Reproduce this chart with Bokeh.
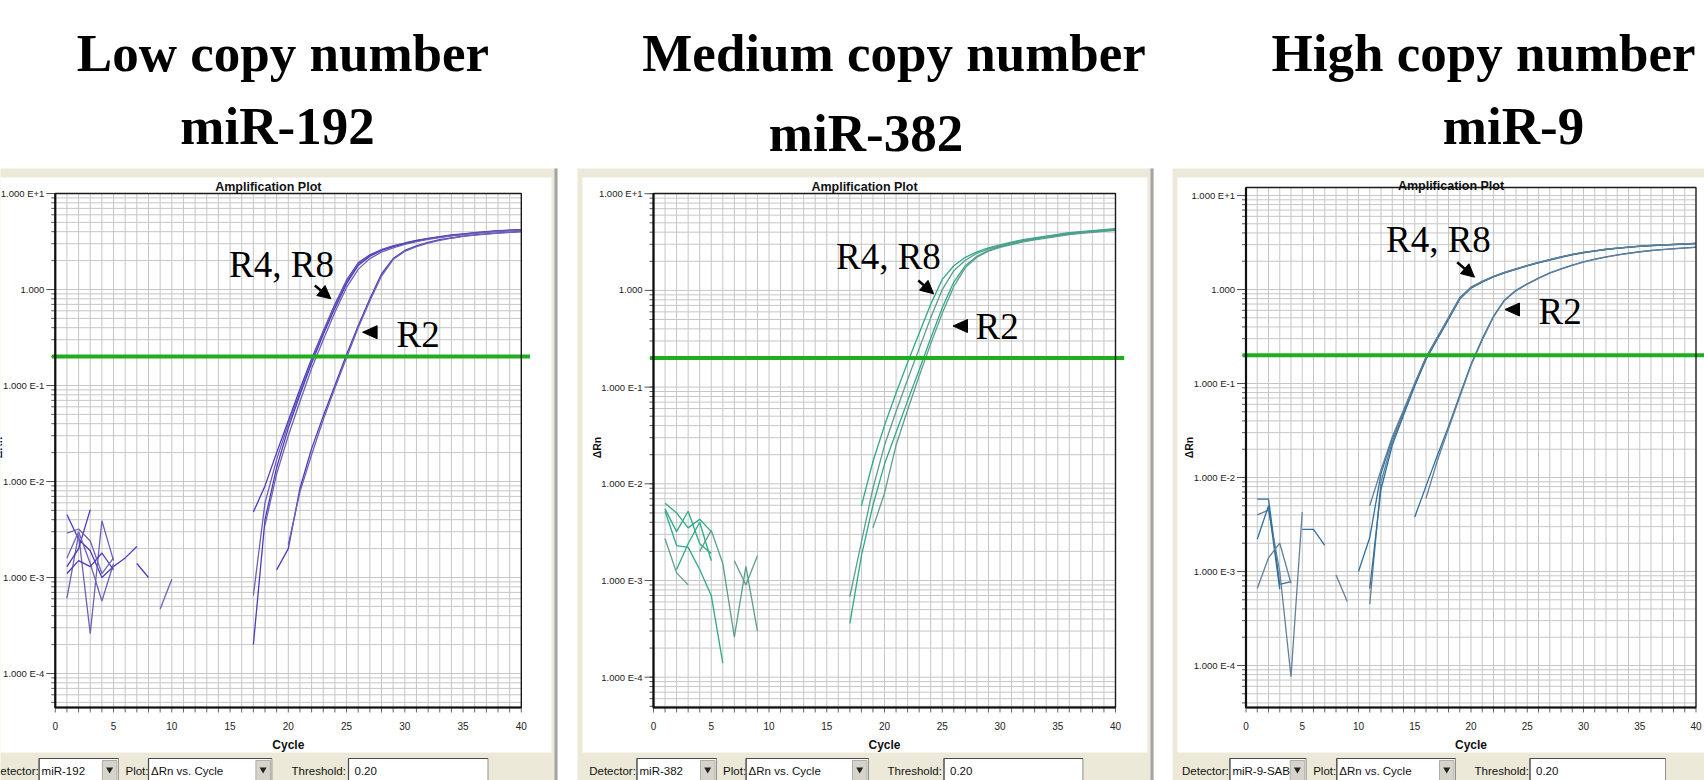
import math
from bokeh.plotting import figure
from bokeh.models import Range1d, LogScale, Arrow, NormalHead
from bokeh.core.properties import value
from bokeh.embed import file_html
from bokeh.resources import INLINE

W, H = 1704, 780

# ------------------------------------------------------------------ values
PANEL_TITLES = ["Low copy number", "Medium copy number", "High copy number"]
MIR_NAMES = ["miR-192", "miR-382", "miR-9"]
DETECTORS = ["miR-192", "miR-382", "miR-9-SAB"]
PLOT_KIND = "ΔRn vs. Cycle"
THRESHOLD = 0.20
THRESHOLD_TEXT = "0.20"
LAST_CYCLE = 40
CYCLE_TICKS = [0, 5, 10, 15, 20, 25, 30, 35, 40]
DECADES = [10.0, 1.0, 0.1, 0.01, 0.001, 0.0001]
DECADE_LABELS = ["1.000 E+1", "1.000", "1.000 E-1", "1.000 E-2", "1.000 E-3", "1.000 E-4"]
EARLY_LABEL = "R4, R8"
LATE_LABEL = "R2"

# miR-192 wells: (first plotted cycle, ΔRn per cycle)
mir192_r48_a = (17, [0.0048, 0.0090, 0.020, 0.043, 0.092, 0.19, 0.37, 0.70, 1.25, 1.90, 2.30, 2.60,
                     2.85, 3.05, 3.25, 3.40, 3.55, 3.70, 3.80, 3.90, 4.00, 4.10, 4.15, 4.20])
mir192_r48_b = (17, [6.5e-4, 0.0060, 0.017, 0.040, 0.085, 0.18, 0.36, 0.68, 1.20, 1.85, 2.25, 2.58,
                     2.83, 3.03, 3.22, 3.38, 3.53, 3.67, 3.78, 3.88, 3.98, 4.07, 4.13, 4.18])
mir192_r48_c = (17, [2.0e-4, 0.0040, 0.014, 0.036, 0.080, 0.17, 0.34, 0.64, 1.15, 1.78, 2.22, 2.55,
                     2.80, 3.00, 3.20, 3.36, 3.51, 3.65, 3.76, 3.86, 3.96, 4.05, 4.12, 4.17])
mir192_r48_d = (18, [0.0035, 0.012, 0.030, 0.068, 0.15, 0.30, 0.58, 1.05, 1.62, 2.10, 2.45, 2.72,
                     2.95, 3.15, 3.32, 3.47, 3.61, 3.73, 3.84, 3.94, 4.03, 4.10, 4.16])
mir192_r2_a = (19, [1.2e-3, 2.0e-3, 8.5e-3, 0.022, 0.048, 0.10, 0.21, 0.42, 0.80, 1.45, 2.10, 2.55,
                    2.85, 3.10, 3.30, 3.45, 3.60, 3.70, 3.80, 3.88, 3.95, 4.00])
mir192_r2_b = (20, [2.2e-3, 7.8e-3, 0.019, 0.044, 0.094, 0.195, 0.40, 0.76, 1.38, 2.05, 2.50, 2.80,
                    3.05, 3.25, 3.42, 3.57, 3.68, 3.78, 3.86, 3.93, 4.00])
mir192_base_1 = (1, [4.5e-3, 2.5e-3, 1.9e-3, 1.0e-3, 1.3e-3, 1.6e-3, 2.1e-3])
mir192_base_2 = (1, [6.1e-4, 2.8e-3, 2.6e-4, 3.9e-3, 1.5e-3])
mir192_base_3 = (1, [1.3e-3, 2.0e-3, 5.1e-3])
mir192_base_4 = (1, [1.6e-3, 3.0e-3, 1.4e-3, 5.7e-4, 1.4e-3])
mir192_base_5 = (1, [1.1e-3, 1.5e-3, 1.3e-3, 1.8e-3, 1.2e-3])
mir192_base_6 = (1, [2.9e-3, 3.2e-3, 2.4e-3, 1.1e-3, 1.6e-3])
mir192_base_7 = (7, [1.4e-3, 1.0e-3])
mir192_base_8 = (9, [4.7e-4, 9.6e-4])

# miR-382 wells
mir382_r48_a = (18, [5.9e-3, 0.017, 0.040, 0.087, 0.18, 0.36, 0.72, 1.30, 1.80, 2.20, 2.50, 2.75,
                     2.95, 3.15, 3.35, 3.50, 3.65, 3.80, 3.95, 4.05, 4.15, 4.25, 4.35])
mir382_r48_b = (17, [6.8e-4, 2.5e-3, 9.0e-3, 0.025, 0.056, 0.12, 0.25, 0.52, 1.02, 1.60, 2.05, 2.42,
                     2.68, 2.90, 3.10, 3.30, 3.45, 3.60, 3.75, 3.90, 4.00, 4.10, 4.20, 4.30])
mir382_r2_a = (17, [3.6e-4, 1.8e-3, 6.0e-3, 0.016, 0.034, 0.072, 0.15, 0.32, 0.66, 1.22, 1.80, 2.25,
                    2.60, 2.83, 3.03, 3.23, 3.38, 3.53, 3.68, 3.83, 3.93, 4.03, 4.13, 4.23])
mir382_r2_b = (19, [3.5e-3, 8.0e-3, 0.025, 0.058, 0.13, 0.28, 0.58, 1.10, 1.72, 2.20, 2.55, 2.78,
                    2.98, 3.18, 3.33, 3.48, 3.63, 3.78, 3.88, 3.98, 4.08, 4.18])
mir382_base_1 = (1, [6.3e-3, 5.0e-3, 3.5e-3, 4.3e-3, 3.2e-3])
mir382_base_2 = (1, [2.7e-3, 1.2e-3, 9.0e-4])
mir382_base_3 = (1, [5.2e-3, 2.3e-3, 2.2e-3, 1.3e-3, 7.0e-4, 1.4e-4])
mir382_base_4 = (4, [2.0e-3, 3.3e-3, 1.5e-3, 2.6e-4, 1.4e-3, 3.0e-4])
mir382_base_5 = (2, [1.3e-3, 2.4e-3, 4.0e-3, 1.6e-3])
mir382_base_6 = (7, [1.6e-3, 9.0e-4, 1.8e-3])
mir382_base_7 = (1, [5.5e-3, 3.2e-3, 5.2e-3, 2.4e-3, 1.9e-3])

# miR-9 wells
mir9_r48_a = (10, [1.0e-3, 2.3e-3, 0.011, 0.026, 0.051, 0.10, 0.19, 0.31, 0.50, 0.82, 1.06, 1.22,
                   1.38, 1.52, 1.66, 1.80, 1.94, 2.08, 2.22, 2.36, 2.48, 2.58, 2.68, 2.76, 2.83,
                   2.89, 2.94, 2.98, 3.02, 3.06, 3.10])
mir9_r48_b = (11, [4.5e-4, 9.0e-3, 0.024, 0.049, 0.097, 0.185, 0.30, 0.49, 0.80, 1.04, 1.21, 1.37,
                   1.51, 1.65, 1.79, 1.93, 2.07, 2.21, 2.35, 2.47, 2.57, 2.67, 2.75, 2.82, 2.88,
                   2.93, 2.97, 3.01, 3.05, 3.09])
mir9_r48_c = (11, [6.6e-4, 7.5e-3, 0.022, 0.046, 0.094, 0.18, 0.295, 0.48, 0.79, 1.03, 1.20, 1.36,
                   1.50, 1.64, 1.78, 1.92, 2.06, 2.20, 2.34, 2.46, 2.56, 2.66, 2.74, 2.81, 2.87,
                   2.92, 2.96, 3.00, 3.04, 3.08])
mir9_r48_d = (11, [5.0e-3, 0.012, 0.027, 0.052, 0.10, 0.19, 0.305, 0.50, 0.81, 1.05, 1.22, 1.37,
                   1.52, 1.66, 1.80, 1.94, 2.08, 2.22, 2.36, 2.48, 2.58, 2.68, 2.76, 2.83, 2.89,
                   2.94, 2.98, 3.02, 3.06, 3.10])
mir9_r2_a = (15, [3.8e-3, 8.1e-3, 0.017, 0.035, 0.075, 0.16, 0.30, 0.52, 0.78, 0.98, 1.15, 1.32,
                  1.50, 1.66, 1.82, 1.97, 2.10, 2.22, 2.33, 2.43, 2.52, 2.60, 2.66, 2.72, 2.77, 2.82])
mir9_r2_b = (16, [6.0e-3, 0.015, 0.033, 0.072, 0.155, 0.29, 0.51, 0.77, 0.97, 1.14, 1.31, 1.49,
                  1.65, 1.81, 1.96, 2.09, 2.21, 2.32, 2.42, 2.51, 2.59, 2.65, 2.71, 2.76, 2.81])
mir9_base_1 = (1, [5.9e-3, 5.9e-3, 7.3e-4, 7.8e-4])
mir9_base_2 = (1, [4.0e-3, 4.5e-3, 1.0e-3, 7.6e-5, 4.3e-3])
mir9_base_3 = (1, [2.2e-3, 5.0e-3, 6.5e-4])
mir9_base_4 = (1, [6.6e-4, 1.4e-3, 2.0e-3, 7.5e-4])
mir9_base_5 = (5, [2.8e-3, 2.8e-3, 1.9e-3])
mir9_base_6 = (8, [9.2e-4, 4.8e-4])

PANEL_WELLS = [
    [mir192_r48_a, mir192_r48_b, mir192_r48_c, mir192_r48_d, mir192_r2_a, mir192_r2_b,
     mir192_base_1, mir192_base_2, mir192_base_3, mir192_base_4, mir192_base_5,
     mir192_base_6, mir192_base_7, mir192_base_8],
    [mir382_r48_a, mir382_r48_b, mir382_r2_a, mir382_r2_b,
     mir382_base_1, mir382_base_2, mir382_base_3, mir382_base_4, mir382_base_5,
     mir382_base_6, mir382_base_7],
    [mir9_r48_a, mir9_r48_b, mir9_r48_c, mir9_r48_d, mir9_r2_a, mir9_r2_b,
     mir9_base_1, mir9_base_2, mir9_base_3, mir9_base_4, mir9_base_5, mir9_base_6],
]

# ------------------------------------------------------------------ layout (pixels)
LAYOUT = [
    dict(x0=54.8, sx=11.65, y_one=289.0, dec=96.0, top=193.0, bottom=707.0, title_dy=7,
         left=-20, right=557, title_x=282.5, mir_x=277, mir_y=143,
         det=(-8.5, 38.6, 117.9), plot=(125.0, 148.0, 271.4), thr=(291.0, 348.0, 487.5),
         r48_text=(228.6, 276.7), r48_arrow=(314.3, 285.0, 330.4, 298.3),
         r2_tri=(369.6, 331.7), r2_text=(396.0, 346.7),
         main="#4A3BBE", alt="#6D62B3"),
    dict(x0=653.0, sx=11.55, y_one=289.9, dec=96.7, top=193.0, bottom=707.0, title_dy=7,
         left=577, right=1153, title_x=893.6, mir_x=865.5, mir_y=150,
         det=(588.7, 636.5, 716.0), plot=(722.6, 745.6, 868.0), thr=(887.0, 943.5, 1082.4),
         r48_text=(835.5, 268.3), r48_arrow=(917.8, 280.0, 933.1, 293.3),
         r2_tri=(960.0, 325.5), r2_text=(975.0, 338.0),
         main="#2EA88C", alt="#5E9C8E"),
    dict(x0=1245.5, sx=11.25, y_one=289.0, dec=94.0, top=187.0, bottom=707.0, title_dy=2,
         left=1172, right=1740, title_x=1483.0, mir_x=1513, mir_y=143,
         det=(1181.5, 1229.4, 1305.7), plot=(1312.7, 1336.3, 1455.0), thr=(1474.0, 1529.5, 1665.0),
         r48_text=(1385.5, 251.7), r48_arrow=(1456.7, 261.7, 1474.0, 276.7),
         r2_tri=(1512.0, 309.0), r2_text=(1538.0, 323.3),
         main="#2F6F9F", alt="#62809A"),
]

BEIGE = "#ECE9D8"
GRID = "#C6C6C6"
SANS = value("Liberation Sans")
SERIF = value("Liberation Serif")
TITLE_PX = 53
CALLOUT_PX = 37
# distance from baseline to the middle of the em box for the serif face
SERIF_MID = 0.3375

p = figure(width=W, height=H, x_range=Range1d(0, W), y_range=Range1d(H, 0),
           output_backend="svg", toolbar_location=None, min_border=0,
           x_axis_location=None, y_axis_location=None,
           background_fill_color="white", border_fill_color="white", outline_line_color=None)
p.xgrid.visible = False
p.ygrid.visible = False

# one linear cycle range and one log ΔRn range per panel, spanning the whole canvas
xr, yr, ys = {}, {}, {}
for i, L in enumerate(LAYOUT):
    name = f"panel{i}"
    xr[name] = Range1d(-L["x0"] / L["sx"], (W - L["x0"]) / L["sx"])
    yr[name] = Range1d(10 ** ((L["y_one"] - H) / L["dec"]), 10 ** (L["y_one"] / L["dec"]))
    ys[name] = LogScale()
p.extra_x_ranges = xr
p.extra_y_ranges = yr
p.extra_y_scales = ys


def window_chrome(L, detector):
    # window body, white client area, bottom control strip
    p.quad(left=[L["left"]], right=[L["right"]], top=[168], bottom=[H + 2],
           fill_color=BEIGE, line_color=None)
    p.quad(left=[L["left"] + 5], right=[L["right"] - 6], top=[177], bottom=[752],
           fill_color="white", line_color=None)
    p.segment(x0=[L["right"] - 1.5], x1=[L["right"] - 1.5], y0=[168], y1=[H],
              line_color="#A4A4A4", line_width=3)

    lab_kw = dict(text_font=SANS, text_font_size="11.5px", text_color="#111111",
                  text_baseline="middle", text_align="left")
    dl, da, db = L["det"]
    pl, pa, pb = L["plot"]
    tl, ta, tb = L["thr"]
    p.text(x=[dl, pl, tl], y=[770, 770, 770], text=["Detector:", "Plot:", "Threshold:"], **lab_kw)
    # combo boxes and the threshold entry box
    for a, b in [(da, db), (pa, pb), (ta, tb)]:
        p.quad(left=[a], right=[b], top=[758], bottom=[H + 3], fill_color="white",
               line_color="#8F8F8F", line_width=1)
        p.line(x=[a, a, b], y=[H + 3, 758, 758], line_color="#4A4A4A", line_width=1.2)
    for b in [db, pb]:
        p.quad(left=[b - 16], right=[b - 1.5], top=[760], bottom=[H + 3],
               fill_color="#D6D3CA", line_color="#B0ADA5", line_width=1)
        p.scatter(x=[b - 8.8], y=[769], marker="inverted_triangle", size=7,
                  fill_color="#222222", line_color=None)
    p.text(x=[da + 2.5, pa + 2.5, ta + 6], y=[770, 770, 770],
           text=[detector, PLOT_KIND, THRESHOLD_TEXT], **lab_kw)


def amplification_plot(i, L, wells):
    rn = dict(x_range_name=f"panel{i}", y_range_name=f"panel{i}")
    lo = 10 ** ((L["y_one"] - L["bottom"]) / L["dec"])
    hi = 10 ** ((L["y_one"] - L["top"]) / L["dec"])

    # log grid: every cycle vertically, 1..9 x 10^n horizontally
    vx = list(range(1, LAST_CYCLE))
    p.segment(x0=vx, x1=vx, y0=[lo] * len(vx), y1=[hi] * len(vx),
              line_color=GRID, line_width=1, **rn)
    hv = [k * 10.0 ** n for n in range(-6, 2) for k in range(1, 10)
          if lo < k * 10.0 ** n < hi * 0.999]
    p.segment(x0=[0] * len(hv), x1=[LAST_CYCLE] * len(hv), y0=hv, y1=hv,
              line_color=GRID, line_width=1, **rn)

    # axis ticks outside the frame
    minor_len = 4 / L["sx"]
    major_len = 9 / L["sx"]
    p.segment(x0=[-minor_len] * len(hv), x1=[0] * len(hv), y0=hv, y1=hv,
              line_color="#555555", line_width=1, **rn)
    decs = [d for d in DECADES if lo <= d <= hi * 1.3]
    labels = [DECADE_LABELS[DECADES.index(d)] for d in decs]
    p.segment(x0=[-major_len] * len(decs), x1=[0] * len(decs), y0=decs, y1=decs,
              line_color="#555555", line_width=1, **rn)
    cx = list(range(0, LAST_CYCLE + 1))
    tick_lo = lo * 10 ** (-5 / L["dec"])
    p.segment(x0=cx, x1=cx, y0=[lo] * len(cx), y1=[tick_lo] * len(cx),
              line_color="#666666", line_width=1, **rn)

    # wells
    for k, (start, vals) in enumerate(wells):
        cyc = list(range(start, start + len(vals)))
        col = L["main"] if k % 2 == 0 else L["alt"]
        p.line(x=cyc, y=vals, line_color=col, line_width=1.3, **rn)

    # threshold
    p.line(x=[-0.3, LAST_CYCLE + 0.75], y=[THRESHOLD, THRESHOLD],
           line_color="#1EAE1E", line_width=4, **rn)

    # frame
    p.quad(left=[0], right=[LAST_CYCLE], bottom=[lo], top=[hi], fill_color=None,
           line_color="#1A1A1A", line_width=1.4, **rn)
    p.line(x=[0, 0, LAST_CYCLE], y=[hi, lo, lo], line_color="#111111", line_width=2.2, **rn)

    # tick labels and axis titles
    p.text(x=[0] * len(decs), y=decs, text=labels, x_offset=-11, text_align="right",
           text_baseline="middle", text_font=SANS, text_font_size="9.5px",
           text_color="#222222", **rn)
    p.text(x=CYCLE_TICKS, y=[lo] * len(CYCLE_TICKS), text=[str(c) for c in CYCLE_TICKS],
           y_offset=18, text_align="center", text_baseline="middle", text_font=SANS,
           text_font_size="10px", text_color="#222222", **rn)
    p.text(x=[LAST_CYCLE / 2], y=[lo], text=["Cycle"], y_offset=37, text_align="center",
           text_baseline="middle", text_font=SANS, text_font_style="bold",
           text_font_size="12px", text_color="#111111", **rn)
    p.text(x=[LAST_CYCLE / 2], y=[hi], text=["Amplification Plot"], x_offset=-20,
           y_offset=-L["title_dy"], text_align="center", text_baseline="middle",
           text_font=SANS, text_font_style="bold", text_font_size="12.5px",
           text_color="#111111", **rn)
    p.text(x=[L["x0"] - 57], y=[447], text=["ΔRn"], angle=math.pi / 2, text_align="center",
           text_baseline="middle", text_font=SANS, text_font_style="bold",
           text_font_size="10.5px", text_color="#111111")


def callouts(L):
    tx, ty = L["r48_text"]
    rx, ry = L["r2_text"]
    shift = SERIF_MID * CALLOUT_PX
    p.text(x=[tx, rx], y=[ty - shift, ry - shift], text=[EARLY_LABEL, LATE_LABEL],
           text_font=SERIF, text_font_size=f"{CALLOUT_PX}px", text_color="black",
           text_align="left", text_baseline="middle")
    x0, y0, x1, y1 = L["r48_arrow"]
    p.add_layout(Arrow(end=NormalHead(size=13, fill_color="black", line_color="black"),
                       x_start=x0, y_start=y0, x_end=x1, y_end=y1,
                       line_color="black", line_width=2.5))
    cx, cy = L["r2_tri"]
    p.patch(x=[cx - 7.5, cx + 7, cx + 7], y=[cy, cy - 6.5, cy + 6.5],
            fill_color="black", line_color="black")


for i, L in enumerate(LAYOUT):
    window_chrome(L, DETECTORS[i])
for i, L in enumerate(LAYOUT):
    amplification_plot(i, L, PANEL_WELLS[i])
    callouts(L)
    shift = SERIF_MID * TITLE_PX
    p.text(x=[L["title_x"]], y=[70 - shift], text=[PANEL_TITLES[i]], text_font=SERIF,
           text_font_style="bold", text_font_size=f"{TITLE_PX}px", text_color="black",
           text_align="center", text_baseline="middle")
    p.text(x=[L["mir_x"]], y=[L["mir_y"] - shift], text=[MIR_NAMES[i]], text_font=SERIF,
           text_font_style="bold", text_font_size=f"{TITLE_PX}px", text_color="black",
           text_align="center", text_baseline="middle")

open("out.html", "w").write(file_html(p, INLINE))
